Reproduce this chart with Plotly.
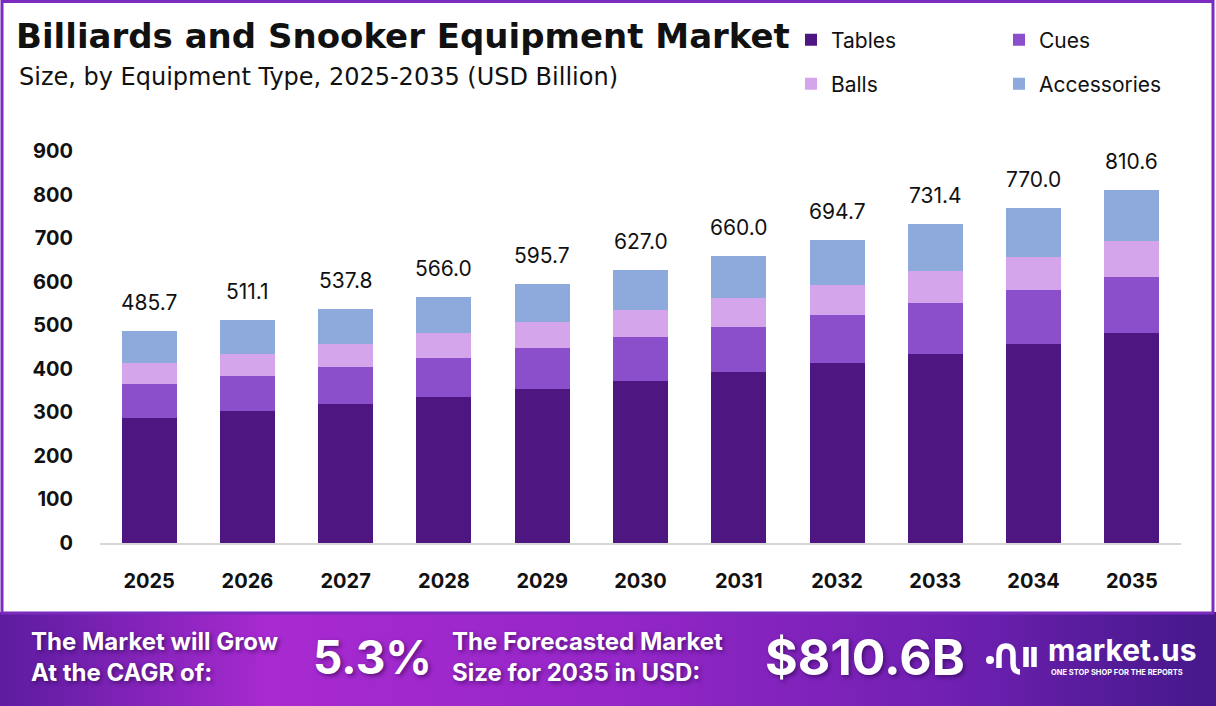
import plotly.graph_objects as go

# ---------------- data ----------------
years = ["2025", "2026", "2027", "2028", "2029", "2030", "2031", "2032", "2033", "2034", "2035"]
tables = [288.0, 303.0, 319.0, 336.0, 353.5, 372.0, 393.5, 414.0, 434.6, 457.6, 482.8]
cues = [77.4, 80.4, 85.7, 89.4, 94.1, 101.0, 103.1, 110.3, 117.1, 123.2, 127.9]
balls = [48.9, 51.4, 53.0, 57.4, 59.7, 62.0, 65.8, 68.7, 72.6, 75.8, 83.3]
accessories = [71.4, 76.3, 80.1, 83.2, 88.4, 92.0, 97.6, 101.7, 107.1, 113.4, 116.6]
y_ticks = [0, 100, 200, 300, 400, 500, 600, 700, 800, 900]

title_text = "Billiards and Snooker Equipment Market"
subtitle_text = "Size, by Equipment Type, 2025-2035 (USD Billion)"
cagr_text = "5.3%"
forecast_text = "$810.6B"

# ---------------- layout geometry ----------------
W, H = 1216, 706
L, R, T, B = 100, 35, 138, 163
PW, PH = W - L - R, H - T - B
FONT = "Inter, Lato, sans-serif"
WIDE = "DejaVu Sans, Inter, sans-serif"


def px(x):
    return (x - L) / PW


def py(y):
    return (H - B - y) / PH


colors = {
    "Tables": "#4E1681",
    "Cues": "#8B4FCB",
    "Balls": "#D4A5EA",
    "Accessories": "#8EA9DB",
}

fig = go.Figure()
series = [("Tables", tables, "legend"), ("Cues", cues, "legend"),
          ("Balls", balls, "legend2"), ("Accessories", accessories, "legend2")]
for name, vals, lg in series:
    fig.add_bar(x=years, y=vals, name=name, marker_color=colors[name],
                marker_line_width=0, legend=lg, hoverinfo="x+y+name")

totals = [t + c + b + a for t, c, b, a in zip(tables, cues, balls, accessories)]

annotations = []
for i, tot in enumerate(totals):
    annotations.append(dict(x=i, y=tot, xref="x", yref="y", text=f"{tot:.1f}",
                            showarrow=False, yanchor="bottom", yshift=14,
                            font=dict(family=FONT, size=21, color="#111111")))

# title + subtitle
annotations.append(dict(x=px(14), y=py(36), xref="paper", yref="paper", text=f"<b>{title_text}</b>",
                        showarrow=False, xanchor="left", yanchor="middle",
                        font=dict(family=WIDE, size=34, color="#111111")))
annotations.append(dict(x=px(17), y=py(77), xref="paper", yref="paper", text=subtitle_text,
                        showarrow=False, xanchor="left", yanchor="middle",
                        font=dict(family=WIDE, size=24, color="#111111")))

# banner texts
white = "#FFFFFF"
shadow = "2px 2px 4px rgba(30,0,60,0.55)"
annotations += [
    dict(x=px(29), y=py(657), xref="paper", yref="paper",
         text="<b>The Market will Grow<br>At the CAGR of:</b>", showarrow=False,
         xanchor="left", yanchor="middle", align="left",
         font=dict(family=FONT, size=24, color=white, shadow=shadow)),
    dict(x=px(373), y=py(657), xref="paper", yref="paper",
         text=f"<b>{cagr_text}</b>", showarrow=False, xanchor="center", yanchor="middle",
         font=dict(family=FONT, size=46, color=white, shadow=shadow)),
    dict(x=px(450), y=py(657), xref="paper", yref="paper",
         text="<b>The Forecasted Market<br>Size for 2035 in USD:</b>", showarrow=False,
         xanchor="left", yanchor="middle", align="left",
         font=dict(family=FONT, size=24, color=white, shadow=shadow)),
    dict(x=px(865), y=py(657), xref="paper", yref="paper",
         text=f"<b>{forecast_text}</b>", showarrow=False, xanchor="center", yanchor="middle",
         font=dict(family=FONT, size=50, color=white, shadow=shadow)),
    dict(x=px(1046), y=py(650), xref="paper", yref="paper",
         text="<b>market.us</b>", showarrow=False, xanchor="left", yanchor="middle",
         font=dict(family=FONT, size=30, color=white)),
    dict(x=px(1049), y=py(672), xref="paper", yref="paper",
         text="<b>ONE STOP SHOP FOR THE REPORTS</b>", showarrow=False, xanchor="left", yanchor="middle",
         font=dict(family=FONT, size=7.5, color=white)),
]

# ---------------- shapes ----------------
shapes = []
# banner gradient
stops = [(0.0, (92, 28, 160)), (0.22, (168, 42, 208)), (0.5, (150, 38, 200)),
         (0.78, (112, 32, 178)), (1.0, (68, 24, 138))]


def grad(t):
    for (t0, c0), (t1, c1) in zip(stops[:-1], stops[1:]):
        if t0 <= t <= t1:
            f = (t - t0) / (t1 - t0)
            return "rgb(%d,%d,%d)" % tuple(round(a + (b - a) * f) for a, b in zip(c0, c1))
    return "rgb(%d,%d,%d)" % stops[-1][1]


step = 8
for x0 in range(0, W, step):
    shapes.append(dict(type="rect", xref="paper", yref="paper",
                       x0=px(x0), x1=px(x0 + step + 1), y0=py(706), y1=py(612),
                       fillcolor=grad((x0 + step / 2) / W), line_width=0, layer="above"))

# purple frame
shapes.append(dict(type="rect", xref="paper", yref="paper", x0=px(2), x1=px(1213),
                   y0=py(613), y1=py(1.5), line=dict(color="#7B2CBF", width=3),
                   fillcolor="rgba(0,0,0,0)", layer="above"))


def path(points_cmds):
    out = []
    for cmd, pts in points_cmds:
        coords = " ".join(f"{px(x):.5f},{py(y):.5f}" for x, y in pts)
        out.append(f"{cmd}{coords}")
    return " ".join(out)


# logo glyph
shapes.append(dict(type="circle", xref="paper", yref="paper", x0=px(986), x1=px(994),
                   y0=py(664), y1=py(656), fillcolor=white, line_width=0, layer="above"))
shapes.append(dict(type="path", xref="paper", yref="paper", layer="above",
                   path=path([("M", [(999, 668)]), ("L", [(999, 655)]),
                              ("Q", [(999, 646), (1006, 646)]), ("Q", [(1013, 646), (1013, 655)]),
                              ("L", [(1013, 663)]), ("Q", [(1013, 672), (1020, 672)])]),
                   line=dict(color=white, width=5.5)))
for xv in (1026, 1034):
    shapes.append(dict(type="line", xref="paper", yref="paper", x0=px(xv), x1=px(xv),
                       y0=py(647), y1=py(667), line=dict(color=white, width=5.5), layer="above"))

legend_common = dict(orientation="h", xref="container", yref="container", xanchor="left",
                     yanchor="middle", entrywidth=163, entrywidthmode="pixels",
                     font=dict(family=FONT, size=21, color="#111111"),
                     bgcolor="rgba(0,0,0,0)", traceorder="normal", itemclick=False)

fig.update_layout(
    width=W, height=H,
    margin=dict(l=L, r=R, t=T, b=B, pad=0),
    paper_bgcolor="white", plot_bgcolor="white",
    barmode="stack", bargap=0.44,
    showlegend=True,
    legend=dict(legend_common, x=791 / W, y=1 - 40 / H),
    legend2=dict(legend_common, x=791 / W, y=1 - 84 / H),
    xaxis=dict(type="category", range=[-0.5, len(years) - 0.5], showgrid=False,
               zeroline=False, showline=True,
               linecolor="#D6D6D6", linewidth=2, ticks="", ticklabelstandoff=19,
               tickfont=dict(family=FONT, size=20, color="#111111", weight="bold")),
    yaxis=dict(range=[0, 930], tickvals=y_ticks, showgrid=False, zeroline=False,
               showline=False, ticks="", ticklabelstandoff=26,
               tickfont=dict(family=FONT, size=20, color="#111111", weight="bold")),
    annotations=annotations,
    shapes=shapes,
)

fig.write_html("out.html")
